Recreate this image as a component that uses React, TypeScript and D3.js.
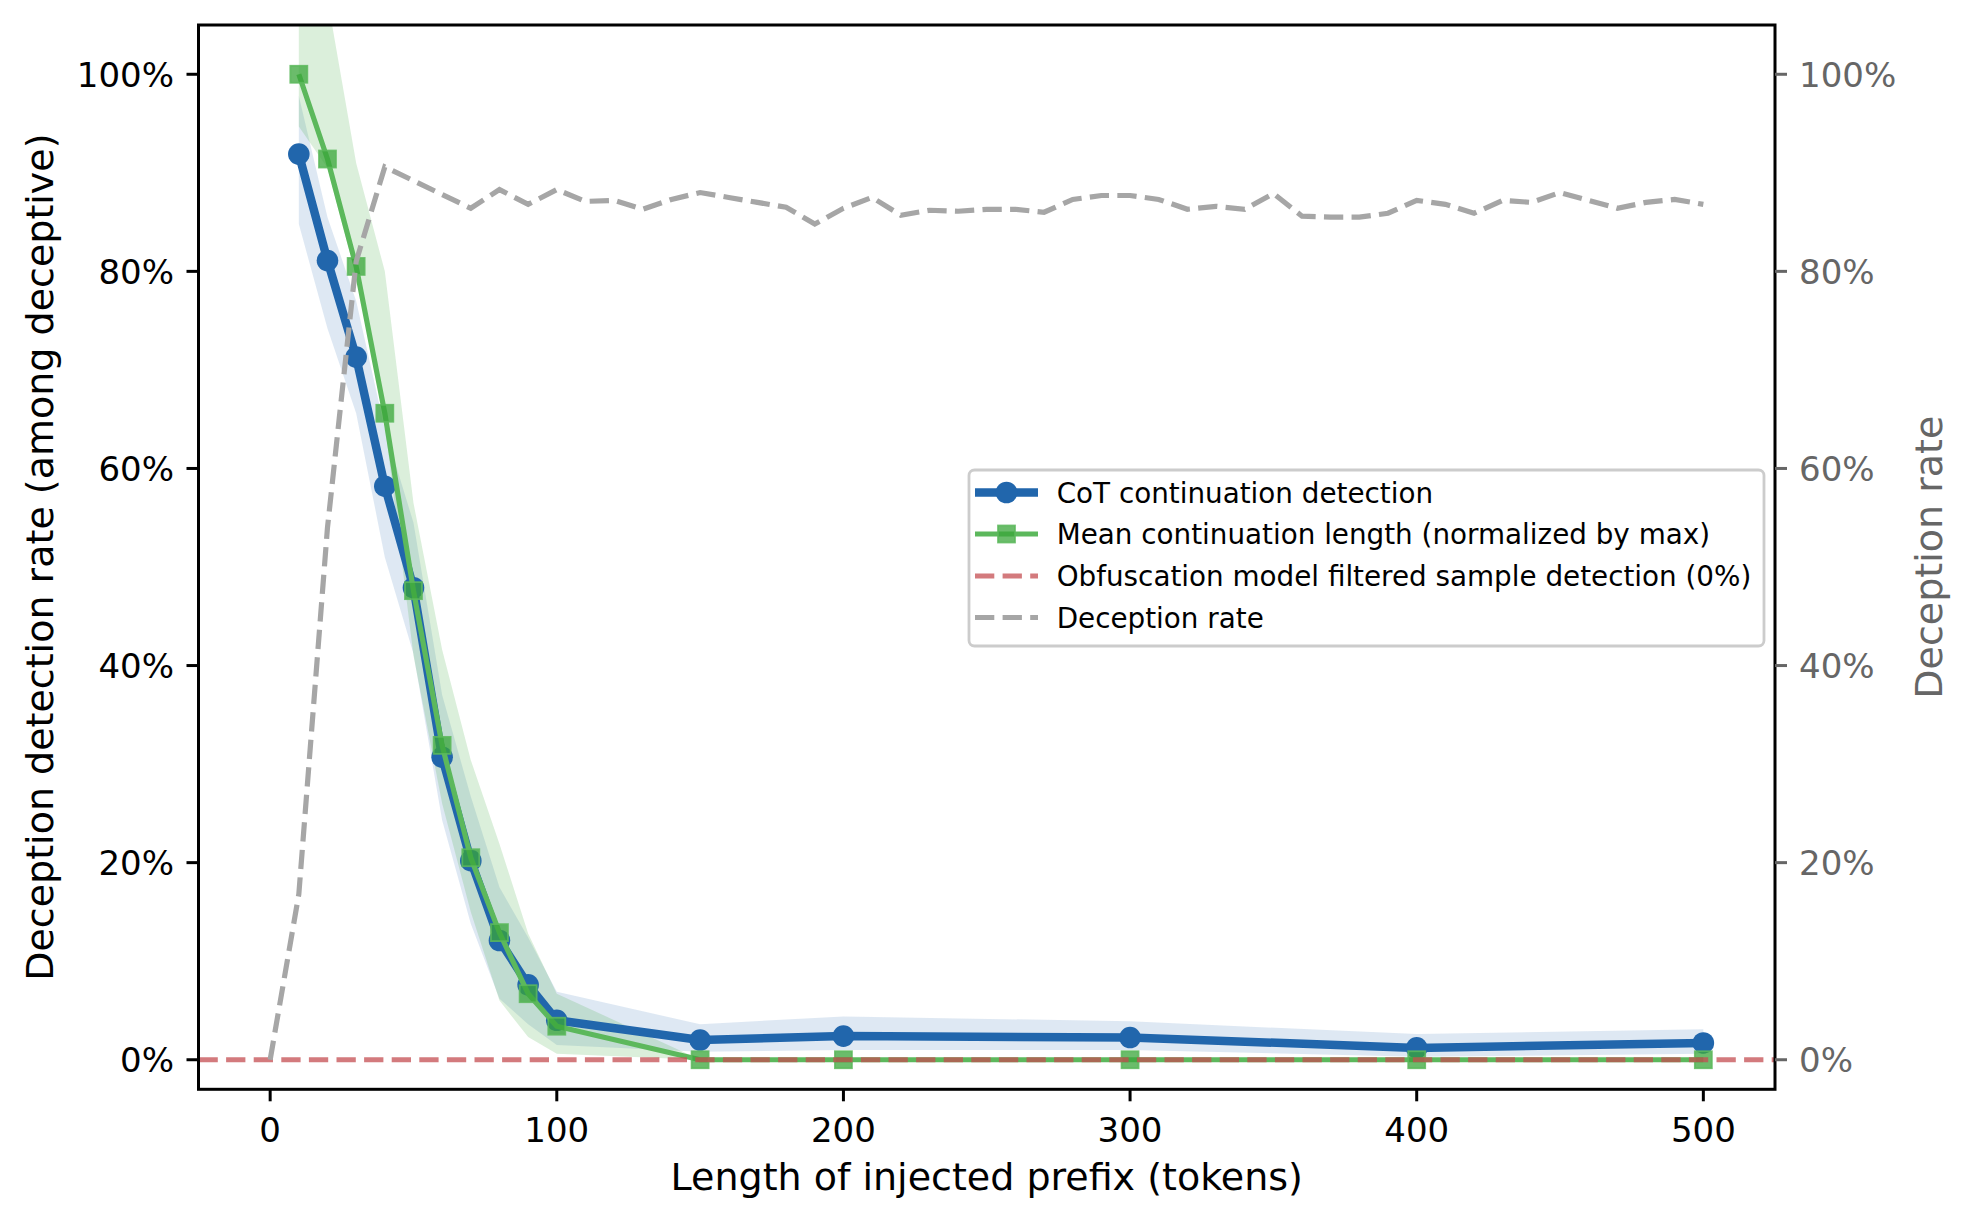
import React from "react";
import * as d3 from "d3";

// ---------- data ----------
const prefixLengths = [10, 20, 30, 40, 50, 60, 70, 80, 90, 100, 150, 200, 300, 400, 500];

const cotDetection = [0.919, 0.811, 0.713, 0.582, 0.479, 0.307, 0.202, 0.121, 0.076, 0.040, 0.020, 0.024, 0.0225, 0.012, 0.017];
const cotLower = [0.848, 0.742, 0.656, 0.510, 0.412, 0.243, 0.138, 0.062, 0.036, 0.015, 0.008, 0.010, 0.010, 0.003, 0.006];
const cotUpper = [0.978, 0.855, 0.770, 0.640, 0.545, 0.370, 0.267, 0.175, 0.124, 0.069, 0.036, 0.044, 0.039, 0.026, 0.031];

const meanLength = [1.0, 0.914, 0.805, 0.656, 0.476, 0.319, 0.205, 0.129, 0.067, 0.034, 0, 0, 0, 0, 0];
const lengthLower = [0.947, 0.905, 0.795, 0.645, 0.41, 0.26, 0.15, 0.06, 0.023, 0.006, 0, 0, 0, 0, 0];
const lengthUpper = [1.06, 1.077, 0.91, 0.80, 0.565, 0.416, 0.304, 0.219, 0.128, 0.067, 0, 0, 0, 0, 0];

const deceptionX = [0, 10, 20, 30, 40, 50, 60, 70, 80, 90, 100, 110, 120, 130, 140, 150, 160, 170, 180, 190, 200,
  210, 220, 230, 240, 250, 260, 270, 280, 290, 300, 310, 320, 330, 340, 350, 360, 370, 380, 390, 400,
  410, 420, 430, 440, 450, 460, 470, 480, 490, 500];
const deceptionRate = [0, 0.168, 0.54, 0.81, 0.906, 0.892, 0.878, 0.864, 0.883, 0.868, 0.883, 0.871, 0.872, 0.863, 0.873,
  0.880, 0.875, 0.870, 0.865, 0.848, 0.864, 0.875, 0.857, 0.862, 0.861, 0.863, 0.863, 0.860, 0.873, 0.877, 0.877,
  0.873, 0.863, 0.866, 0.863, 0.879, 0.856, 0.855, 0.855, 0.859, 0.872, 0.868, 0.859, 0.872, 0.870, 0.880, 0.872,
  0.864, 0.870, 0.873, 0.868];

const obfuscationLevel = 0;

const xTicks = [0, 100, 200, 300, 400, 500];
const yTicks = [0, 0.2, 0.4, 0.6, 0.8, 1.0];

const legendLabels = [
  "CoT continuation detection",
  "Mean continuation length (normalized by max)",
  "Obfuscation model filtered sample detection (0%)",
  "Deception rate",
];

// ---------- layout ----------
const W = 1972;
const H = 1222;
const left = 198.5;
const right = 1775;
const top = 25;
const bottom = 1089.3;

const BLUE = "#2166ac";
const GREEN_LINE = "#5cb85c";
const GREEN_MARK = "#3aa63a";
const GREEN_BAND = "#4daf4a";
const RED = "#c44e52";
const GREY = "#a6a6a6";
const RGREY = "#666666";
const FONT = "DejaVu Sans, Verdana, sans-serif";

export default function App() {
  const x = d3.scaleLinear().domain([-25, 525]).range([left, right]);
  const y = d3.scaleLinear().domain([-0.03, 1.05]).range([bottom, top]);
  const y2 = d3.scaleLinear().domain([-0.03, 1.05]).range([bottom, top]);

  const idx = prefixLengths.map((_, i) => i);

  const blueArea = d3.area<number>()
    .x((i) => x(prefixLengths[i]))
    .y0((i) => y(cotLower[i]))
    .y1((i) => y(cotUpper[i]))(idx) || "";
  const greenArea = d3.area<number>()
    .x((i) => x(prefixLengths[i]))
    .y0((i) => y(lengthLower[i]))
    .y1((i) => y(lengthUpper[i]))(idx) || "";
  const blueLine = d3.line<number>()
    .x((i) => x(prefixLengths[i]))
    .y((i) => y(cotDetection[i]))(idx) || "";
  const greenLine = d3.line<number>()
    .x((i) => x(prefixLengths[i]))
    .y((i) => y(meanLength[i]))(idx) || "";
  const greyLine = d3.line<number>()
    .x((_, i) => x(deceptionX[i]))
    .y((v) => y2(v))(deceptionRate) || "";

  const dash = "19.3 8.3";
  const sq = 17;

  const legX = 969;
  const legY = 470;
  const legW = 795;
  const legH = 176;
  const rowY = [492.5, 534, 576, 617.5];
  const hx0 = 975;
  const hx1 = 1038;
  const hmid = (hx0 + hx1) / 2;
  const textX = 1056.7;

  return (
    <div style={{ position: "absolute", left: 0, top: 0 }}>
      <svg width={W} height={H} viewBox={`0 0 ${W} ${H}`} style={{ display: "block", background: "#fff" }} fontFamily={FONT}>
        <defs>
          <clipPath id="plotClip">
            <rect x={left} y={top} width={right - left} height={bottom - top} />
          </clipPath>
        </defs>
        <rect x={0} y={0} width={W} height={H} fill="#fff" />

        <g clipPath="url(#plotClip)">
          <path d={blueArea} fill={BLUE} fillOpacity={0.15} stroke="none" />
          <path d={greenArea} fill={GREEN_BAND} fillOpacity={0.2} stroke="none" />
          <path d={blueLine} fill="none" stroke={BLUE} strokeWidth={8.5} strokeLinejoin="round" />
          {idx.map((i) => (
            <circle key={"c" + i} cx={x(prefixLengths[i])} cy={y(cotDetection[i])} r={10.8} fill={BLUE} />
          ))}
          <path d={greenLine} fill="none" stroke={GREEN_LINE} strokeWidth={5.2} strokeLinejoin="round" />
          {idx.map((i) => (
            <rect key={"s" + i} x={x(prefixLengths[i]) - sq / 2} y={y(meanLength[i]) - sq / 2} width={sq} height={sq}
              fill={GREEN_MARK} fillOpacity={0.75} stroke={GREEN_LINE} strokeOpacity={0.85} strokeWidth={1.8} />
          ))}
          <line x1={left} x2={right} y1={y(obfuscationLevel)} y2={y(obfuscationLevel)} stroke={RED} strokeOpacity={0.75}
            strokeWidth={5.2} strokeDasharray={dash} />
          <path d={greyLine} fill="none" stroke={GREY} strokeWidth={5.2} strokeDasharray={dash} />
        </g>

        {/* spines */}
        <rect x={left} y={top} width={right - left} height={bottom - top} fill="none" stroke="#000" strokeWidth={3} />

        {/* x ticks */}
        {xTicks.map((t) => (
          <g key={"xt" + t}>
            <line x1={x(t)} x2={x(t)} y1={bottom} y2={bottom + 12} stroke="#000" strokeWidth={3} />
            <text x={x(t)} y={1141.7} fontSize={34} textAnchor="middle" fill="#000">{t}</text>
          </g>
        ))}
        {/* left y ticks */}
        {yTicks.map((t) => (
          <g key={"yt" + t}>
            <line x1={left - 12} x2={left} y1={y(t)} y2={y(t)} stroke="#000" strokeWidth={3} />
            <text x={174} y={y(t) + 12.4} fontSize={34} textAnchor="end" fill="#000">{`${Math.round(t * 100)}%`}</text>
          </g>
        ))}
        {/* right y ticks */}
        {yTicks.map((t) => (
          <g key={"yr" + t}>
            <line x1={right} x2={right + 12} y1={y2(t)} y2={y2(t)} stroke={RGREY} strokeWidth={3} />
            <text x={1799} y={y2(t) + 12.4} fontSize={34} textAnchor="start" fill={RGREY}>{`${Math.round(t * 100)}%`}</text>
          </g>
        ))}

        {/* axis labels */}
        <text x={(left + right) / 2} y={1190} fontSize={38} textAnchor="middle" fill="#000">Length of injected prefix (tokens)</text>
        <text transform={`translate(53, ${(top + bottom) / 2}) rotate(-90)`} fontSize={38} textAnchor="middle" fill="#000">
          Deception detection rate (among deceptive)
        </text>
        <text transform={`translate(1942, ${(top + bottom) / 2}) rotate(-90)`} fontSize={38} textAnchor="middle" fill={RGREY}>
          Deception rate
        </text>

        {/* legend */}
        <g>
          <rect x={legX} y={legY} width={legW} height={legH} rx={5.5} ry={5.5} fill="#fff" fillOpacity={0.8}
            stroke="#cccccc" strokeWidth={2.8} />
          <line x1={hx0} x2={hx1} y1={rowY[0]} y2={rowY[0]} stroke={BLUE} strokeWidth={8.5} />
          <circle cx={hmid} cy={rowY[0]} r={10.8} fill={BLUE} />
          <line x1={hx0} x2={hx1} y1={rowY[1]} y2={rowY[1]} stroke={GREEN_LINE} strokeWidth={5.2} />
          <rect x={hmid - sq / 2} y={rowY[1] - sq / 2} width={sq} height={sq} fill={GREEN_MARK} fillOpacity={0.75}
            stroke={GREEN_LINE} strokeOpacity={0.85} strokeWidth={1.8} />
          <line x1={hx0} x2={hx1} y1={rowY[2]} y2={rowY[2]} stroke={RED} strokeOpacity={0.75} strokeWidth={5.2} strokeDasharray={dash} />
          <line x1={hx0} x2={hx1} y1={rowY[3]} y2={rowY[3]} stroke={GREY} strokeWidth={5.2} strokeDasharray={dash} />
          {legendLabels.map((l, i) => (
            <text key={"lg" + i} x={textX} y={rowY[i] + 10} fontSize={27.8} fill="#000">{l}</text>
          ))}
        </g>
      </svg>
    </div>
  );
}
